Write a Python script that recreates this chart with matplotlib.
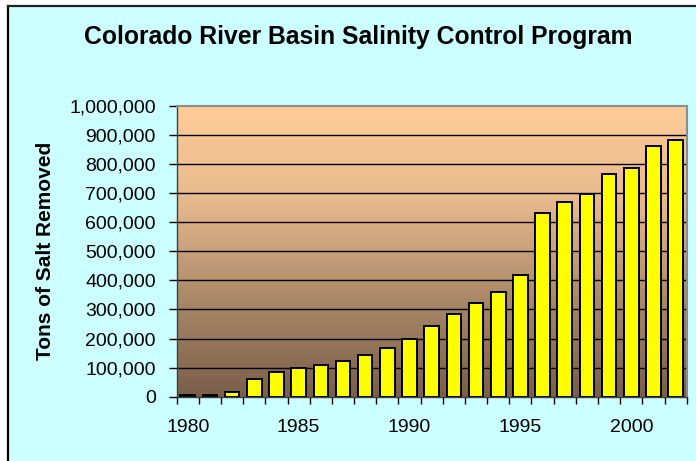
import matplotlib
matplotlib.use("Agg")
import matplotlib.pyplot as plt
import numpy as np
from matplotlib.lines import Line2D
from matplotlib.patches import Rectangle
from matplotlib.ticker import FuncFormatter, FixedLocator
from matplotlib.colors import LinearSegmentedColormap

plt.rcParams['font.family'] = ['Liberation Sans', 'DejaVu Sans']

years = list(range(1980, 2003))
tons = [5000, 5000, 15000, 60000, 85000, 98000, 110000, 124000, 142000, 168000,
        200000, 244000, 283000, 322000, 361000, 420000, 631000, 670000, 696000,
        767000, 786000, 863000, 883000]
title = "Colorado River Basin Salinity Control Program"
ylabel = "Tons of Salt Removed"
label_years = [1980, 1985, 1990, 1995, 2000]

W, H = 696, 461
fig = plt.figure(figsize=(W / 100, H / 100), dpi=100, facecolor='white')

# cyan panel with black left/top border
x0, ytop = 7.5 / W, 1 - 6.5 / H
fig.patches.append(Rectangle((x0, 0), 1 - x0, ytop, transform=fig.transFigure,
                             facecolor='#CCFFFF', edgecolor='none', zorder=-10))
fig.lines.append(Line2D([x0, x0], [0, ytop], transform=fig.transFigure, color='black', lw=1.6, zorder=-9))
fig.lines.append(Line2D([x0, 1], [ytop, ytop], transform=fig.transFigure, color='#222222', lw=1.6, zorder=-9))

left, right = 176.7 / W, 686.7 / W
top, bottom = 1 - 106 / H, 1 - 396.7 / H
ax = fig.add_axes([left, bottom, right - left, top - bottom])
ax.set_zorder(1)

n = len(years)
x = np.arange(n)
ax.set_xlim(-0.5, n - 0.5)
ax.set_ylim(0, 1000000)

# gradient background
cmap = LinearSegmentedColormap.from_list('bg', ['#7A5E49', '#A98868', '#E6B88C', '#FFCC99'])
grad = np.linspace(0, 1, 256).reshape(-1, 1)
ax.imshow(grad, cmap=cmap, aspect='auto', origin='lower',
          extent=(-0.5, n - 0.5, 0, 1000000), zorder=0)

for v in range(100000, 1000000, 100000):
    ax.axhline(v, color='black', lw=1.0, zorder=1)

ax.bar(x, tons, width=0.66, color='#FFFF00', edgecolor='black', linewidth=1.4, zorder=2)

# spines
for s in ['top', 'right']:
    ax.spines[s].set_color('#8C8C8C')
    ax.spines[s].set_linewidth(1.5)
ax.spines['left'].set_color('#404040')
ax.spines['bottom'].set_color('#404040')
ax.spines['left'].set_linewidth(1.0)
ax.spines['bottom'].set_linewidth(1.0)

ax.yaxis.set_major_locator(FixedLocator(list(range(0, 1000001, 100000))))
ax.yaxis.set_major_formatter(FuncFormatter(lambda v, p: f"{int(v):,}"))
ax.tick_params(axis='y', direction='out', length=6, width=1, pad=9, labelsize=14, colors='black')

ax.set_xticks([years.index(y) for y in label_years])
ax.set_xticklabels([str(y) for y in label_years])
ax.set_xticks(np.arange(n + 1) - 0.5, minor=True)
ax.tick_params(axis='x', which='major', length=0, pad=16, labelsize=14)
ax.tick_params(axis='x', which='minor', direction='out', length=5, width=1)

ax.set_ylabel(ylabel, fontsize=15, fontweight='bold', labelpad=10)
fig.text(358 / W, 1 - 37 / H, title, ha='center', va='center',
         fontsize=17.8, fontweight='bold')

fig.savefig('out.png', dpi=100, facecolor=fig.get_facecolor())
